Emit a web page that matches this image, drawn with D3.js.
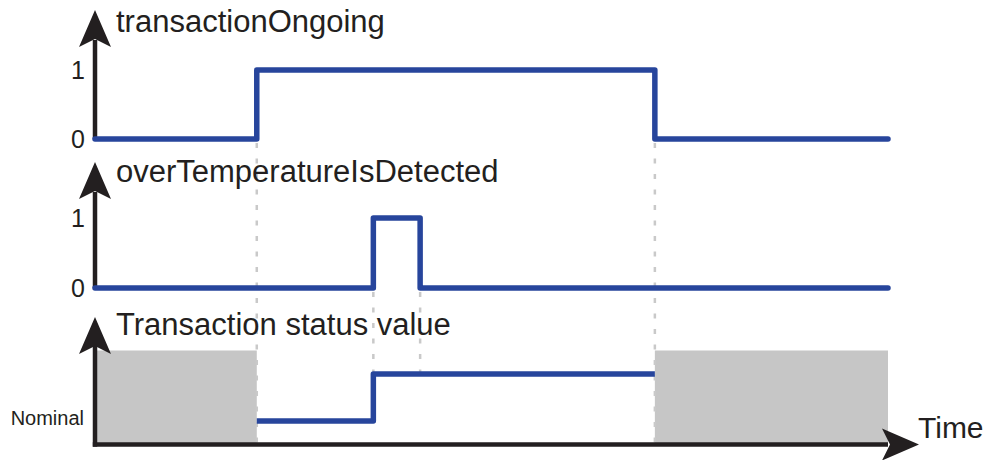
<!doctype html>
<html lang="en">

<head>
  <meta charset="utf-8">
  <script src="https://d3js.org/d3.v7.min.js"></script>
  <style>
    body { margin: 0; background: #fff; }
    text { font-family: "Liberation Sans", Arial, sans-serif; fill: #231f20; }
  </style>
</head>

<body>
  <svg id="chart"></svg>
  <script>
    // signal data (time in arbitrary units 0..100)
    const events = [20.4, 35.1, 41, 70.6];            // t1 start, t2 overTemp on, t3 overTemp off, t4 end
    const transactionOngoing = [[0, 0], [20.4, 1], [70.6, 0], [100, 0]];
    const overTemperature = [[0, 0], [35.1, 1], [41, 0], [100, 0]];
    const statusValue = [[20.4, 0], [35.1, 1], [70.6, 1]];   // 0 = Nominal
    const unknownSpans = [[0, 20.4], [70.6, 100]];
    const binaryTicks = [0, 1];
    const statusTicks = ["Nominal"];
    const titles = ["transactionOngoing", "overTemperatureIsDetected", "Transaction status value"];

    const width = 988, height = 460;
    const blue = "#27459c", ink = "#231f20", grey = "#c6c6c6";

    const svg = d3.select("#chart")
      .attr("width", width)
      .attr("height", height);

    x = d3.scaleLinear().domain([0, 100]).range([95, 888]);
    yTop = d3.scaleLinear().domain([0, 1]).range([139, 70]);
    yMid = d3.scaleLinear().domain([0, 1]).range([288, 218]);
    yStatus = d3.scaleLinear().domain([-0.5, 1.5]).range([444.5, 350.5]);

    const stepLine = y => d3.line().curve(d3.curveStepAfter).x(d => x(d[0])).y(d => y(d[1]));

    // arrow head pointing up (rotated for the time axis)
    function arrowHead(g, px, py, angle) {
      g.append("path")
        .attr("d", "M0,0L-16,37L0,29L16,37Z")
        .attr("fill", ink)
        .attr("transform", `translate(${px},${py}) rotate(${angle})`);
    }

    // grey "unknown" spans in status panel
    svg.append("g")
      .selectAll("rect")
      .data(unknownSpans)
      .join("rect")
        .attr("x", d => x(d[0]))
        .attr("width", d => x(d[1]) - x(d[0]))
        .attr("y", yStatus(1.5))
        .attr("height", yStatus(-0.5) - yStatus(1.5))
        .attr("fill", grey);

    // dashed guides
    const guides = svg.append("g")
      .attr("stroke", "#c9c9c9")
      .attr("stroke-width", 2.5)
      .attr("stroke-dasharray", "5,10.5");
    [events[0], events[3]].forEach(t => guides.append("line")
      .attr("x1", x(t)).attr("x2", x(t))
      .attr("y1", yTop(0) + 4).attr("y2", yStatus(-0.5) - 2));
    [events[1], events[2]].forEach(t => guides.append("line")
      .attr("x1", x(t)).attr("x2", x(t))
      .attr("y1", yMid(0) + 4).attr("y2", yStatus(1)));

    // axes
    const axes = svg.append("g").attr("stroke", ink).attr("stroke-width", 4.5);
    axes.append("line").attr("x1", x(0)).attr("x2", x(0)).attr("y1", 40).attr("y2", yTop(0));
    axes.append("line").attr("x1", x(0)).attr("x2", x(0)).attr("y1", 192).attr("y2", yMid(0));
    axes.append("line").attr("x1", x(0)).attr("x2", x(0)).attr("y1", 346).attr("y2", yStatus(-0.5) + 2.2);
    axes.append("line").attr("x1", x(0) - 2.2).attr("x2", 888).attr("y1", yStatus(-0.5)).attr("y2", yStatus(-0.5));
    arrowHead(svg, x(0), 10, 0);
    arrowHead(svg, x(0), 162, 0);
    arrowHead(svg, x(0), 317, 0);
    arrowHead(svg, 919, yStatus(-0.5), 90);

    // signals
    svg.append("path")
      .datum(transactionOngoing)
      .attr("d", stepLine(yTop))
      .attr("fill", "none").attr("stroke", blue).attr("stroke-width", 5.5)
      .attr("stroke-linejoin", "round").attr("stroke-linecap", "round");

    svg.append("path")
      .datum(overTemperature)
      .attr("d", stepLine(yMid))
      .attr("fill", "none").attr("stroke", blue).attr("stroke-width", 5.5)
      .attr("stroke-linejoin", "round").attr("stroke-linecap", "round");

    svg.append("path")
      .datum(statusValue)
      .attr("d", stepLine(yStatus))
      .attr("fill", "none").attr("stroke", blue).attr("stroke-width", 5.5)
      .attr("stroke-linejoin", "round").attr("stroke-linecap", "butt");

    // tick labels
    [yTop, yMid].forEach(y => {
      svg.append("g")
        .selectAll("text")
        .data(binaryTicks)
        .join("text")
          .attr("x", 85)
          .attr("y", d => y(d))
          .attr("dy", "0.35em")
          .attr("text-anchor", "end")
          .attr("font-size", 25)
          .text(d => d);
    });
    svg.append("g")
      .selectAll("text")
      .data(statusTicks)
      .join("text")
        .attr("x", 84)
        .attr("y", (d, i) => yStatus(i) - 3)
        .attr("dy", "0.35em")
        .attr("text-anchor", "end")
        .attr("font-size", 20)
        .text(d => d);

    // titles
    const titleY = [32, 182, 335];
    svg.append("g")
      .selectAll("text")
      .data(titles)
      .join("text")
        .attr("x", 116)
        .attr("y", (d, i) => titleY[i])
        .attr("font-size", 31)
        .text(d => d);

    svg.append("text")
      .attr("x", 918)
      .attr("y", 438)
      .attr("font-size", 30)
      .text("Time");
  </script>
</body>
</html>
